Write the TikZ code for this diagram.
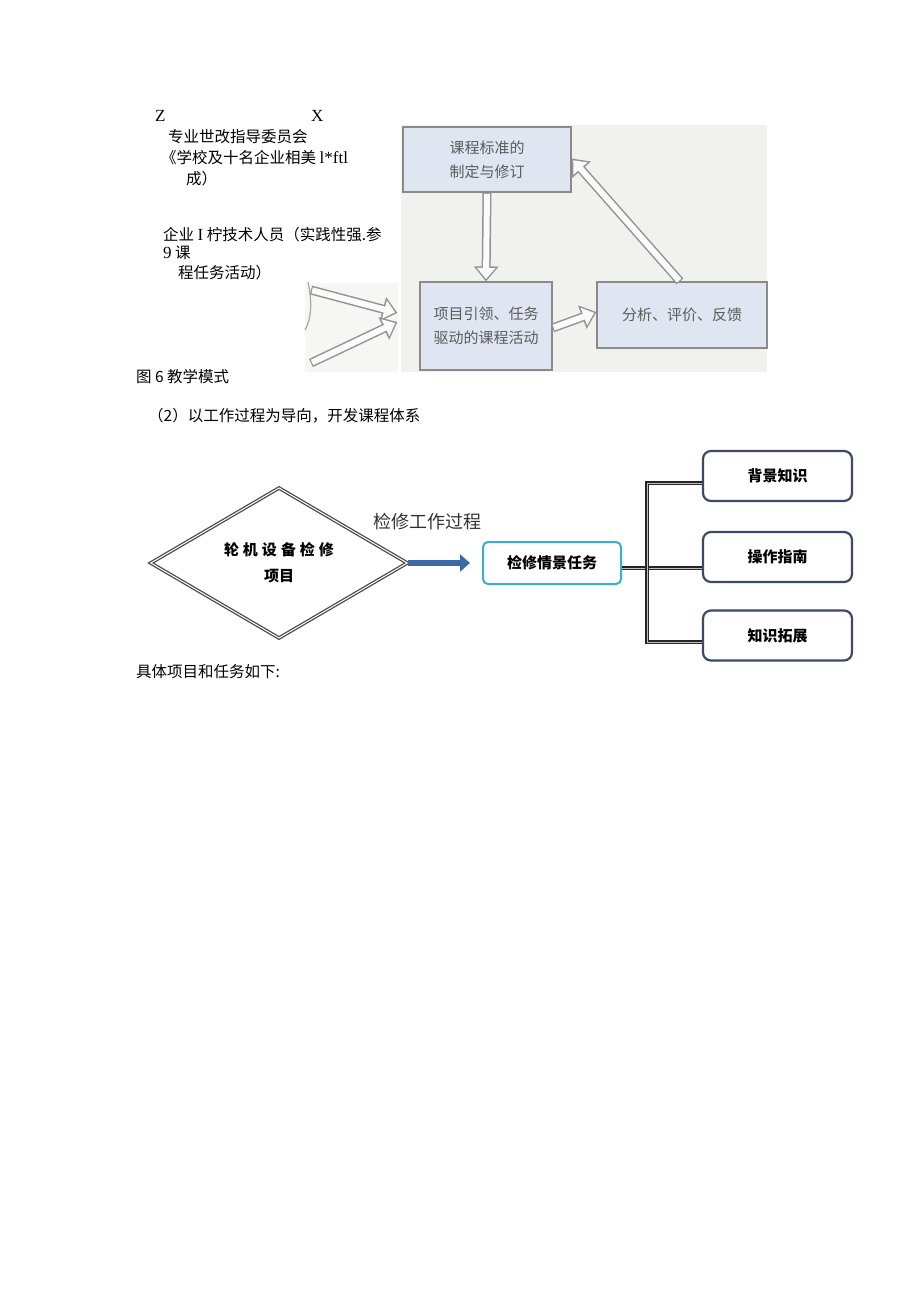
\documentclass[tikz,border=0pt]{standalone}
\usepackage{fontspec}
\setmainfont{Liberation Serif}
\newfontfamily\cjk{Noto Sans CJK SC}
\usetikzlibrary{arrows.meta,shapes.geometric}

\definecolor{panel}{HTML}{F1F1EE}
\definecolor{panelL}{HTML}{F6F6F4}
\definecolor{boxfill}{HTML}{DFE6F1}
\definecolor{boxline}{HTML}{8A8A8A}
\definecolor{boxtext}{HTML}{5C5C5C}
\definecolor{flowblue}{HTML}{3D68A6}
\definecolor{taskline}{HTML}{3AAED6}
\definecolor{itemline}{HTML}{3C4B63}

\newcommand\latn[1]{{\rmfamily\fontsize{17}{18}\selectfont #1}}

\tikzset{
  txt/.style={anchor=west, inner sep=0pt, font=\fontsize{15.5}{18}\selectfont\cjk},
  modebox/.style={draw=boxline, fill=boxfill, line width=1.2pt, align=center,
    text=boxtext, inner sep=0pt, font=\fontsize{15}{24}\selectfont\cjk},
  hollow/.style={preaction={draw=gray!85, line width=9pt,
      shorten >=0pt, shorten <=0pt, -{Triangle[length=15pt,width=24pt]}},
    draw=white!97!gray, line width=6pt, shorten >=2.4pt, shorten <=1.2pt,
    -{Triangle[length=11pt,width=18pt]}},
  itembox/.style={draw=itemline, line width=2.2pt, rounded corners=8pt,
    minimum width=149pt, minimum height=50pt, inner sep=0pt,
    font=\fontsize{15}{18}\selectfont\cjk\bfseries},
  link/.style={draw=black!85, double=gray!50, double distance=0.8pt, line width=1.2pt}
}

\begin{document}
\begin{tikzpicture}[x=1pt,y=-1pt]
  \fill[white] (0,0) rectangle (920,1301);
  \useasboundingbox (0,0) rectangle (920,1301);

  % text beside the teaching mode picture
  \node[txt, font=\fontsize{17}{20}\selectfont] (zz) at (155,116) {Z};
  \node[txt, font=\fontsize{17}{20}\selectfont] (xx) at (311,116) {X};
  \node[txt] (c1) at (168,137) {专业世改指导委员会};
  \node[txt] (c2) at (161,158) {《学校及十名企业相美 \latn{l*ftl}};
  \node[txt] (c3) at (186,179) {成）};
  \node[txt] (e1) at (163,235) {企业 \latn{I} 柠技术人员（实践性强.参};
  \node[txt] (e2) at (163,253) {\latn{9} 课};
  \node[txt] (e3) at (178,273) {程任务活动）};

  % teaching mode picture
  \fill[panel] (401,125) rectangle (767,372);
  \fill[panelL] (305,283) rectangle (398,372);
  \draw[gray!70, line width=1.2pt] (308,282) .. controls (312,300) and (312,318) .. (305,330);

  \node[modebox, minimum width=168pt, minimum height=65pt] (std) at (487,159.5)
    {课程标准的\\制定与修订};
  \node[modebox, minimum width=132pt, minimum height=88pt] (act) at (486,326)
    {项目引领、任务\\驱动的课程活动};
  \node[modebox, minimum width=170pt, minimum height=66pt] (eva) at (682,315)
    {分析、评价、反馈};

  \coordinate (in1) at (311,290);
  \coordinate (in2) at (311,363);
  \draw[hollow] (in1) -- ([xshift=-22pt,yshift=13pt]act.west);
  \draw[hollow] (in2) -- ([xshift=-22pt,yshift=4pt]act.west);
  \draw[hollow] (std.south) -- (act.north);
  \draw[hollow] ([yshift=-2pt]act.east) -- ([yshift=3pt]eva.west);
  \draw[hollow] ([xshift=-2pt]eva.north) -- ([yshift=1pt]std.east);

  \node[txt] (cap) at (136,377) {图 6 教学模式};
  \node[txt] (sec) at (148,416) {（2）以工作过程为导向，开发课程体系};

  % curriculum system
  \node[diamond, draw=gray!60!black, double=white, double distance=1pt, line width=1.3pt,
    minimum width=257pt, minimum height=122pt, inner sep=0pt, align=center,
    font=\fontsize{15}{26}\selectfont\cjk\bfseries] (proj) at (279,563)
    {轮\hspace{4pt}机\hspace{4pt}设\hspace{4pt}备\hspace{4pt}检\hspace{4pt}修\\项目};
  \node[inner sep=0pt, text=black!80, font=\fontsize{18}{20}\selectfont\cjk] (proc) at (427,522)
    {检修工作过程};
  \node[draw=taskline, line width=2pt, rounded corners=5pt, minimum width=138pt,
    minimum height=42pt, inner sep=0pt, font=\fontsize{15}{18}\selectfont\cjk\bfseries]
    (task) at (552,563) {检修情景任务};

  \node[itembox] (bg) at (777.5,476) {背景知识};
  \node[itembox] (op) at (777.5,557) {操作指南};
  \node[itembox] (ext) at (777.5,635.5) {知识拓展};

  \draw[flowblue, line width=6pt, shorten >=12pt,
    -{Triangle[length=10pt,width=17pt]}] (proj.east) -- (task.west);
  \draw[link] ([yshift=-5pt]task.east) -- ([yshift=-11pt]op.west);
  \draw[link] ([yshift=-7pt]bg.west) -- ++(-55,0) |- ([yshift=-6.5pt]ext.west);

  \node[txt] (list) at (136,672) {具体项目和任务如下:};
\end{tikzpicture}
\end{document}
